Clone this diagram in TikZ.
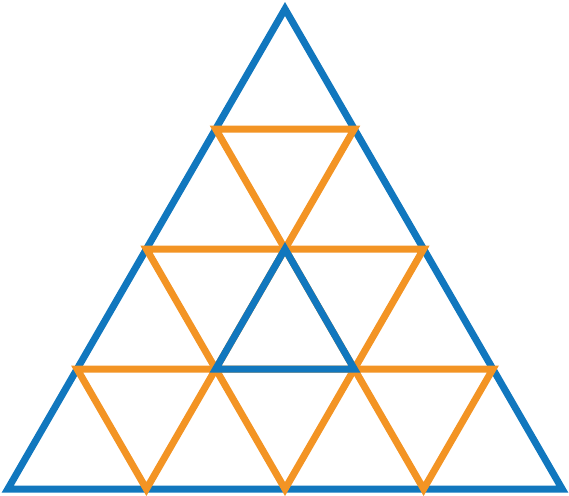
\documentclass[tikz,border=0pt]{standalone}
\definecolor{tblue}{HTML}{1177BE}
\definecolor{torange}{HTML}{F39424}
\begin{document}
\begin{tikzpicture}[x=0.75pt,y=-0.75pt,
  edgeblue/.style={draw=tblue,line width=5.25pt,line join=miter},
  edgeorange/.style={draw=torange,line width=5.25pt,line join=miter}]
\useasboundingbox (0,0) rectangle (569,496);
\foreach \r in {0,...,4}{
  \foreach \k in {0,...,\r}{
    \coordinate (p\r\k) at ({285+(\k-\r/2)*138.6},{9+\r*120});
  }
}
\draw[edgeblue] (p00) -- (p40) -- (p44) -- cycle;
\foreach \r in {1,2,3}{
  \pgfmathtruncatemacro{\rr}{\r-1}
  \pgfmathtruncatemacro{\rn}{\r+1}
  \foreach \k in {0,...,\rr}{
    \pgfmathtruncatemacro{\kn}{\k+1}
    \draw[edgeorange] (p\r\k) -- (p\r\kn) -- (p\rn\kn) -- cycle;
  }
}
\draw[edgeblue] (p21) -- (p31) -- (p32) -- cycle;
\end{tikzpicture}
\end{document}
